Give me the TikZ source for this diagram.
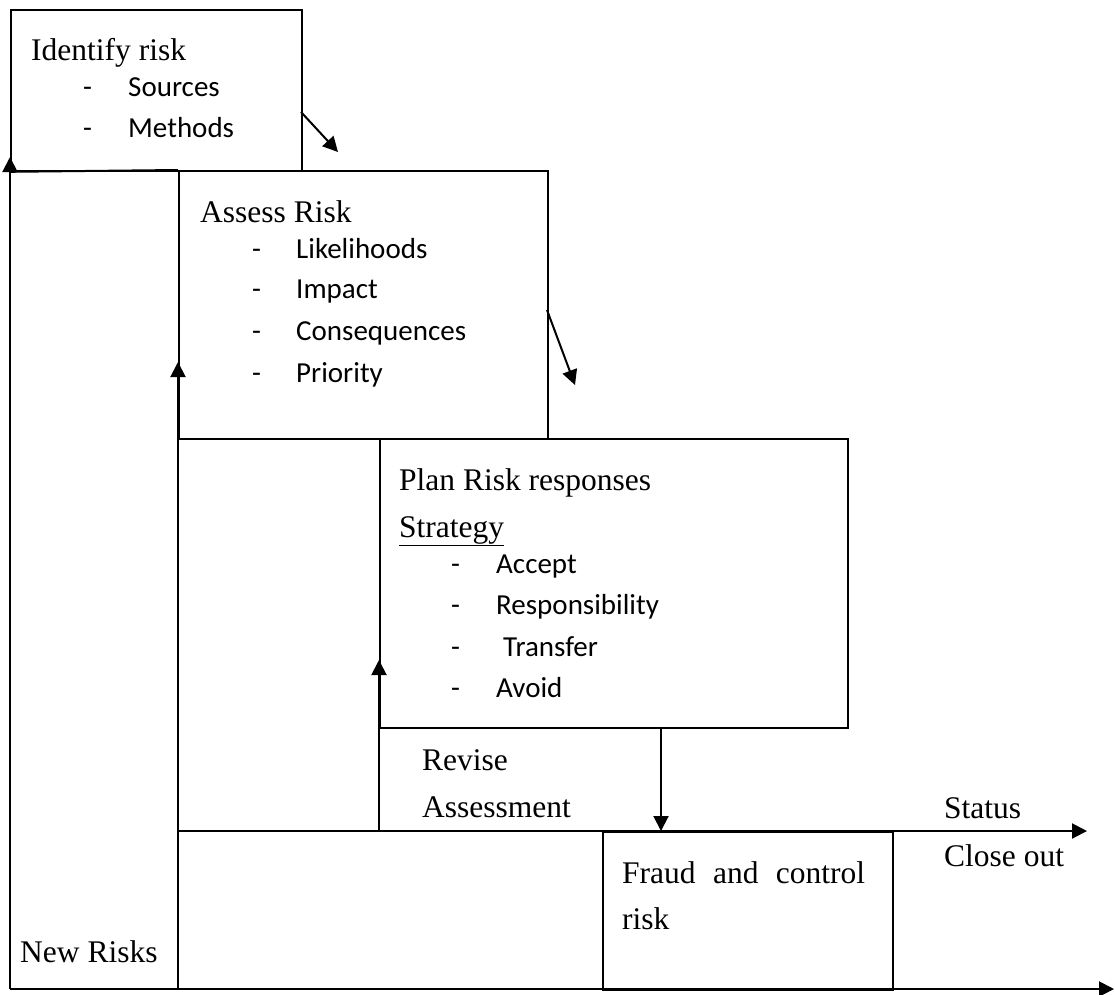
\documentclass[tikz,border=0pt]{standalone}
\usepackage{fontspec}
\setmainfont{Liberation Serif}
\newfontfamily\itemfont{Carlito}
\usetikzlibrary{arrows.meta}
\begin{document}
\begin{tikzpicture}[x=1pt,y=-1pt,
  frame/.style={draw, line width=1.8pt, inner sep=0pt, anchor=north west},
  conn/.style={line width=2pt, -{Triangle[length=15pt,width=15pt]}},
  rule/.style={line width=2pt},
  head/.style={anchor=base west, inner sep=0pt, font=\fontsize{31.5}{38}\selectfont},
  item/.style={anchor=base west, inner sep=0pt, font=\itemfont\fontsize{29}{35}\selectfont}
]
\useasboundingbox (0,0) rectangle (1115,994);

% process boxes
\node[frame, minimum width=291pt, minimum height=161pt] (ident) at (10,9) {};
\node[frame, minimum width=369pt, minimum height=268pt] (assess) at (178,170) {};
\node[frame, minimum width=468pt, minimum height=289pt] (plan) at (379,438) {};
\node[frame, minimum width=290pt, minimum height=158pt] (fraud) at (602,831) {};

% Identify risk
\node[head] (identT) at (31,60) {Identify risk};
\node[item] (identD1) at (83,96) {-};
\node[item] (identI1) at (128,96) {Sources};
\node[item] (identD2) at (83,137) {-};
\node[item] (identI2) at (128,137) {Methods};

% Assess Risk
\node[head] (assessT) at (200,222) {Assess Risk};
\node[item] (assessD1) at (252,258) {-};
\node[item] (assessI1) at (296,258) {Likelihoods};
\node[item] (assessD2) at (252,298) {-};
\node[item] (assessI2) at (296,298) {Impact};
\node[item] (assessD3) at (252,340) {-};
\node[item] (assessI3) at (296,340) {Consequences};
\node[item] (assessD4) at (252,382) {-};
\node[item] (assessI4) at (296,382) {Priority};

% Plan Risk responses
\node[head] (planT) at (399,490) {Plan Risk responses};
\node[head] (planS) at (399,537) {\underline{Strategy}};
\node[item] (planD1) at (451,573) {-};
\node[item] (planI1) at (496,573) {Accept};
\node[item] (planD2) at (451,614) {-};
\node[item] (planI2) at (496,614) {Responsibility};
\node[item] (planD3) at (451,656) {-};
\node[item] (planI3) at (503,656) {Transfer};
\node[item] (planD4) at (451,697) {-};
\node[item] (planI4) at (496,697) {Avoid};

% free labels
\node[head] (rev1) at (422,770) {Revise};
\node[head] (rev2) at (422,817) {Assessment};
\node[head] (fr1) at (622,883) {\makebox[243pt][s]{Fraud and control}};
\node[head] (fr2) at (622,929) {risk};
\node[head] (st1) at (944,818) {Status};
\node[head] (st2) at (944,866) {Close out};
\node[head] (newr) at (20,962) {New Risks};

% connector end points
\coordinate (c0) at (10,989);
\coordinate (c0end) at (1114,989);
\coordinate (c0top) at (10,157);
\coordinate (c1) at (178,989);
\coordinate (c1top) at (178,362);
\coordinate (c2) at (379,831);
\coordinate (c2top) at (379,660);
\coordinate (mid) at (178,831);
\coordinate (midend) at (1087,831);
\coordinate (d1s) at (301,112);
\coordinate (d1e) at (338,152);
\coordinate (d2s) at (547,310);
\coordinate (d2e) at (575,385);
\coordinate (dn) at (661,727);

% flow lines
\draw[conn] (c0) -- (c0end);
\draw[conn] (c0) -- (c0top);
\draw[conn] (c1) -- (c1top);
\draw[rule] (ident.south west) -- (assess.north west);
\draw[conn] (mid) -- (midend);
\draw[conn] (c2) -- (c2top);
\draw[conn] (d1s) -- (d1e);
\draw[conn] (d2s) -- (d2e);
\draw[conn] (dn) -- (dn |- fraud.north);
\end{tikzpicture}
\end{document}
